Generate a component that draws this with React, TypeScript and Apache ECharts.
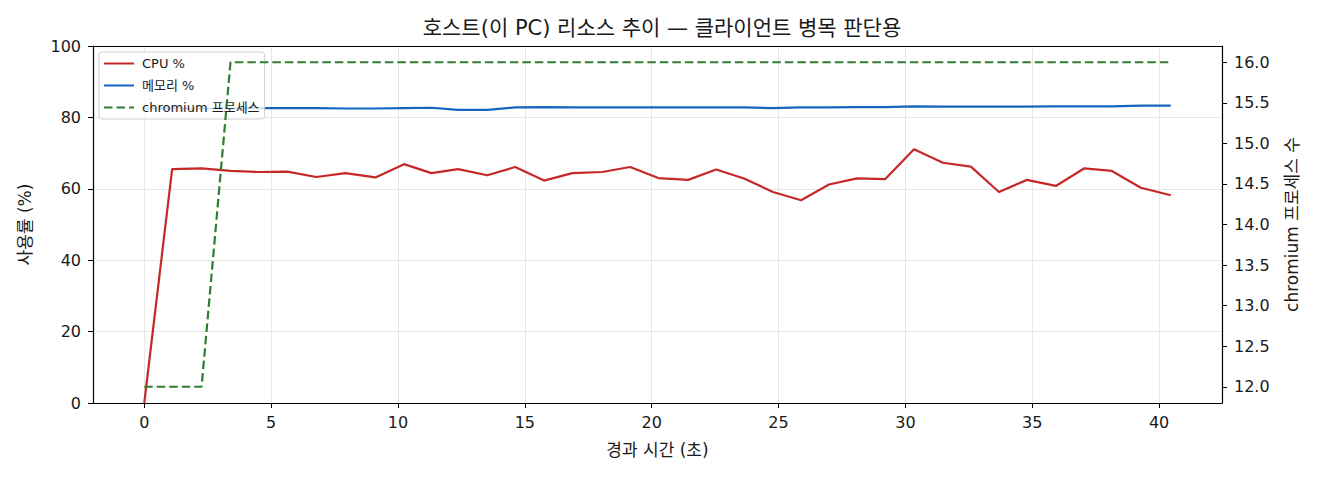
import { useEffect, useRef } from "react";
import * as echarts from "echarts";

// elapsed seconds for each sample
const TIME_S = [
  0, 1.1, 2.26, 3.4, 4.5, 5.64, 6.78, 7.93, 9.11, 10.24, 11.32, 12.37, 13.52,
  14.62, 15.76, 16.87, 18.05, 19.15, 20.26, 21.44, 22.54, 23.64, 24.78, 25.89,
  26.99, 28.09, 29.2, 30.34, 31.48, 32.58, 33.69, 34.79, 35.93, 37.04, 38.14,
  39.28, 40.46,
];

const CPU_PCT = [
  0, 65.5, 65.7, 65.0, 64.7, 64.8, 63.3, 64.4, 63.2, 66.9, 64.4, 65.5, 63.8,
  66.1, 62.3, 64.4, 64.7, 66.1, 63.0, 62.5, 65.4, 62.9, 59.1, 56.8, 61.2, 62.9,
  62.7, 71.1, 67.3, 66.2, 59.1, 62.5, 60.8, 65.7, 65.0, 60.3, 58.2,
];

const MEM_PCT = [
  82.5, 82.5, 82.5, 82.5, 82.6, 82.6, 82.6, 82.5, 82.5, 82.6, 82.7, 82.1, 82.1,
  82.8, 82.9, 82.8, 82.8, 82.8, 82.8, 82.8, 82.8, 82.8, 82.6, 82.8, 82.8, 82.9,
  82.9, 83.1, 83.0, 83.0, 83.0, 83.0, 83.1, 83.1, 83.1, 83.3, 83.3,
];

const CHROMIUM_PROCS = [
  12, 12, 12, 16, 16, 16, 16, 16, 16, 16, 16, 16, 16, 16, 16, 16, 16, 16, 16,
  16, 16, 16, 16, 16, 16, 16, 16, 16, 16, 16, 16, 16, 16, 16, 16, 16, 16,
];

const X_TICKS = [0, 5, 10, 15, 20, 25, 30, 35, 40];
const Y_RIGHT_TICKS = [12, 12.5, 13, 13.5, 14, 14.5, 15, 15.5, 16];

const FONT = "'DejaVu Sans', 'Noto Sans CJK KR', sans-serif";
const INK = "#1a1a1a";
const GRID_LINE = "#e6e6e6";

export default function App() {
  const ref = useRef<HTMLDivElement>(null);

  useEffect(() => {
    if (!ref.current) return;
    const chart = echarts.init(ref.current, null, { renderer: "svg" });

    const pairs = (vals: number[]) => TIME_S.map((t, i) => [t, vals[i]]);
    const tickLabel = { color: INK, fontSize: 16, fontFamily: FONT };
    const nameStyle = { color: INK, fontSize: 17, fontFamily: FONT };
    const tick = { show: true, length: 5, lineStyle: { color: "#000" } };
    const spine = { show: true, onZero: false, lineStyle: { color: "#000", width: 1.2 } };

    chart.setOption({
      animation: false,
      backgroundColor: "#fff",
      textStyle: { fontFamily: FONT },
      title: {
        text: "호스트(이 PC) 리소스 추이 — 클라이언트 병목 판단용",
        left: 657,
        textAlign: "center",
        top: 12,
        textStyle: { color: INK, fontSize: 21, fontWeight: "normal", fontFamily: FONT },
      },
      legend: {
        orient: "vertical",
        left: 99,
        top: 52,
        itemWidth: 30,
        itemHeight: 14,
        itemGap: 9,
        padding: [5, 5, 5, 4],
        backgroundColor: "rgba(255,255,255,0.8)",
        borderColor: "#d0d0d0",
        borderWidth: 1,
        borderRadius: 3,
        itemStyle: { opacity: 0 },
        textStyle: { color: INK, fontSize: 13, fontFamily: FONT, padding: [0, 0, 0, 3] },
        data: ["CPU %", "메모리 %", "chromium 프로세스"],
      },
      grid: { left: 93, right: 98, top: 46, bottom: 77, containLabel: false },
      xAxis: [
        {
          type: "value",
          min: -2.02,
          max: 42.48,
          name: "경과 시간 (초)",
          nameLocation: "middle",
          nameGap: 38,
          nameTextStyle: nameStyle,
          axisLine: spine,
          axisTick: { ...tick, customValues: X_TICKS },
          axisLabel: { ...tickLabel, margin: 11, customValues: X_TICKS },
          splitLine: { show: true, lineStyle: { color: GRID_LINE, width: 1 } },
        },
        {
          // top spine
          type: "value",
          position: "top",
          min: -2.02,
          max: 42.48,
          axisLine: spine,
          axisTick: { show: false },
          axisLabel: { show: false },
          splitLine: { show: false },
        },
      ],
      yAxis: [
        {
          type: "value",
          min: 0,
          max: 100,
          interval: 20,
          name: "사용률 (%)",
          nameLocation: "middle",
          nameGap: 60,
          nameTextStyle: nameStyle,
          axisLine: spine,
          axisTick: tick,
          axisLabel: { ...tickLabel, margin: 12 },
          splitLine: { show: true, lineStyle: { color: GRID_LINE, width: 1 } },
        },
        {
          type: "value",
          position: "right",
          min: 11.8,
          max: 16.2,
          name: "chromium 프로세스 수",
          nameLocation: "middle",
          nameGap: 61,
          nameRotate: 90,
          nameTextStyle: nameStyle,
          axisLine: spine,
          axisTick: { ...tick, customValues: Y_RIGHT_TICKS },
          axisLabel: {
            ...tickLabel,
            margin: 12,
            customValues: Y_RIGHT_TICKS,
            formatter: (v: number) => v.toFixed(1),
          },
          splitLine: { show: false },
        },
      ],
      series: [
        {
          name: "CPU %",
          type: "line",
          data: pairs(CPU_PCT),
          symbol: "none",
          lineStyle: { color: "#c62828", width: 2.2 },
          itemStyle: { color: "#c62828" },
          z: 2,
        },
        {
          name: "메모리 %",
          type: "line",
          data: pairs(MEM_PCT),
          symbol: "none",
          lineStyle: { color: "#1565c0", width: 2.2 },
          itemStyle: { color: "#1565c0" },
          z: 2,
        },
        {
          // secondary axis line sits above the legend box
          name: "chromium 프로세스",
          type: "line",
          yAxisIndex: 1,
          data: pairs(CHROMIUM_PROCS),
          symbol: "none",
          lineStyle: { color: "#2e7d32", width: 2.2, type: [8.5, 4] },
          itemStyle: { color: "#2e7d32" },
          z: 5,
        },
      ],
    });

    return () => chart.dispose();
  }, []);

  return (
    <div
      ref={ref}
      style={{ position: "fixed", left: 0, top: 0, width: 1320, height: 480 }}
    />
  );
}
